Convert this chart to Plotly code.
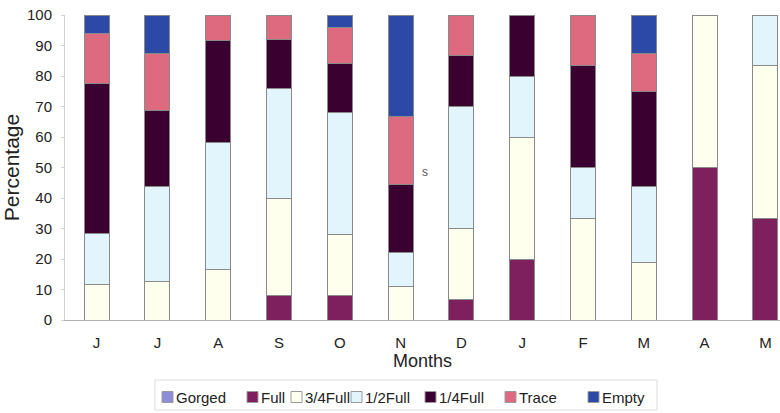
import plotly.graph_objects as go

# Monthly stomach-fullness composition (%)
months = ["J", "J", "A", "S", "O", "N", "D", "J", "F", "M", "A", "M"]
gorged = [0, 0, 0, 0, 0, 0, 0, 0, 0, 0, 0, 0]
full = [0, 0, 0, 8, 8, 0, 6.67, 20, 0, 0, 50, 33.33]
three_quarter = [11.5, 12.5, 16.67, 32, 20, 11.11, 23.33, 40, 33.33, 18.75, 50, 50]
half = [17, 31.25, 41.67, 36, 40, 11.11, 40, 20, 16.67, 25, 0, 16.67]
quarter = [49, 25, 33.33, 16, 16, 22.22, 16.67, 20, 33.33, 31.25, 0, 0]
trace = [16.5, 18.75, 8.33, 8, 12, 22.22, 13.33, 0, 16.67, 12.5, 0, 0]
empty = [6, 12.5, 0, 0, 4, 33.34, 0, 0, 0, 12.5, 0, 0]

series = [
    ("Gorged", gorged, "#8C8CD8"),
    ("Full", full, "#7E1F5E"),
    ("3/4Full", three_quarter, "#FFFFEE"),
    ("1/2Full", half, "#E3F5FC"),
    ("1/4Full", quarter, "#3A0030"),
    ("Trace", trace, "#DE6A80"),
    ("Empty", empty, "#2C49A8"),
]

x = list(range(len(months)))
fig = go.Figure()
for name, vals, color in series:
    fig.add_trace(go.Bar(
        x=x, y=vals, name=name, width=0.41, showlegend=False,
        marker=dict(color=color, line=dict(color="#8a8a8a", width=1)),
    ))

fig.add_annotation(x=5.4, y=48.5, text="s", showarrow=False,
                   font=dict(size=12, color="#555555"))

# Compact legend row below the axis title, in paper coordinates
W_PLOT, H_PLOT, L, T = 715, 305, 65, 15


def px_x(px):
    return (px - L) / W_PLOT


def px_y(py):
    return (T + H_PLOT - py) / H_PLOT


legend_left = [162, 247, 291, 351, 425, 505, 588]
legend_row = 397
fig.add_shape(type="rect", xref="paper", yref="paper",
              x0=px_x(155), x1=px_x(657), y0=px_y(410), y1=px_y(380),
              line=dict(color="#dcdcdc", width=1), fillcolor="rgba(0,0,0,0)")
for (name, _, color), left in zip(series, legend_left):
    fig.add_shape(type="rect", xref="paper", yref="paper",
                  x0=px_x(left), x1=px_x(left + 11),
                  y0=px_y(legend_row + 5.5), y1=px_y(legend_row - 5.5),
                  line=dict(color="#9a9a9a", width=1), fillcolor=color)
    fig.add_annotation(xref="paper", yref="paper", x=px_x(left + 12),
                       y=px_y(legend_row), text=name, showarrow=False,
                       xanchor="left", yanchor="middle",
                       font=dict(size=15, color="#222222"))

font_family = "Liberation Sans, Arial, sans-serif"
fig.update_layout(
    width=780, height=413,
    barmode="stack",
    plot_bgcolor="white", paper_bgcolor="white",
    margin=dict(l=L, r=0, t=T, b=413 - T - H_PLOT),
    font=dict(family=font_family, color="#222222"),
    showlegend=False,
    xaxis=dict(
        range=[-0.52, 11.24],
        tickvals=x, ticktext=months,
        tickfont=dict(size=15),
        ticklabelstandoff=9,
        showline=True, linecolor="#b0b0b0", linewidth=1,
        ticks="", showgrid=False, zeroline=False,
        title=dict(text="Months", font=dict(size=18), standoff=4),
    ),
    yaxis=dict(
        range=[0, 100], dtick=10,
        tickfont=dict(size=15),
        showline=True, linecolor="#d0d0d0", linewidth=1,
        ticks="outside", ticklen=3, tickcolor="#d0d0d0",
        ticklabelstandoff=6,
        showgrid=False, zeroline=False,
        title=dict(text="Percentage", font=dict(size=21), standoff=6),
    ),
)

fig.write_html("out.html")
